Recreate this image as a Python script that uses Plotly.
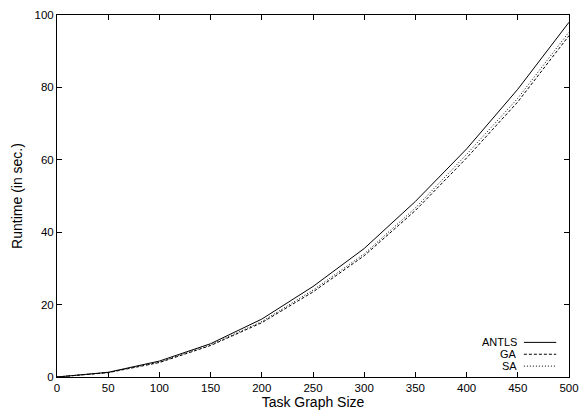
import plotly.graph_objects as go

sizes = [0, 50, 100, 150, 200, 250, 300, 350, 400, 450, 500]
antls = [0, 1.3, 4.4, 9.2, 16.0, 25.0, 35.5, 48.5, 63.0, 79.5, 98.0]
ga = [0, 1.2, 4.0, 8.7, 15.0, 23.5, 33.5, 46.0, 60.5, 76.0, 94.3]
sa = [0, 1.25, 4.1, 8.9, 15.3, 24.0, 34.0, 46.7, 61.5, 77.0, 95.3]

series = [("ANTLS", antls, "solid", "#000000"),
          ("GA", ga, "3px,2px", "#000000"),
          ("SA", sa, "1px,2px", "#000000")]

fig = go.Figure()
for name, vals, dash, col in series:
    fig.add_trace(go.Scatter(x=sizes, y=vals, mode="lines", name=name,
                             line=dict(color=col, width=1, dash=dash),
                             showlegend=False))

W, H = 588, 416
ml, mr, mt, mb = 57, 9, 13, 37
pw, ph = W - ml - mr, H - mt - mb

# custom gnuplot-style legend (text right, sample to the right)
legend_y = [344, 356, 368]
for (name, vals, dash, col), yy in zip(series, legend_y):
    yp = 1 - (yy - mt) / ph
    fig.add_annotation(x=(528 - ml) / pw, y=yp, xref="paper", yref="paper",
                       text=name, showarrow=False, xanchor="right", yanchor="middle",
                       font=dict(size=11, color="#000"), height=12)
    fig.add_shape(type="line", xref="paper", yref="paper",
                  x0=(533 - ml) / pw, x1=(566 - ml) / pw, y0=yp, y1=yp,
                  line=dict(color=col, width=1, dash=dash))

axis_common = dict(showgrid=False, zeroline=False, showline=True, linecolor="#000",
                   linewidth=1, mirror="ticks", ticks="inside", ticklen=5,
                   tickcolor="#000", tickfont=dict(size=11.5, color="#000"))

fig.update_xaxes(range=[0, 500], tickvals=list(range(0, 501, 50)),
                 title=dict(text="Task Graph Size", font=dict(size=14, color="#000"), standoff=3),
                 **axis_common)
fig.update_yaxes(range=[0, 100], tickvals=list(range(0, 101, 20)),
                 title=dict(text="Runtime (in sec.)", font=dict(size=14, color="#000"), standoff=8),
                 **axis_common)

fig.update_layout(width=W, height=H, margin=dict(l=ml, r=mr, t=mt, b=mb),
                  paper_bgcolor="white", plot_bgcolor="white",
                  font=dict(family="Liberation Sans, Arial, sans-serif", color="#000"))

fig.write_html("out.html")
